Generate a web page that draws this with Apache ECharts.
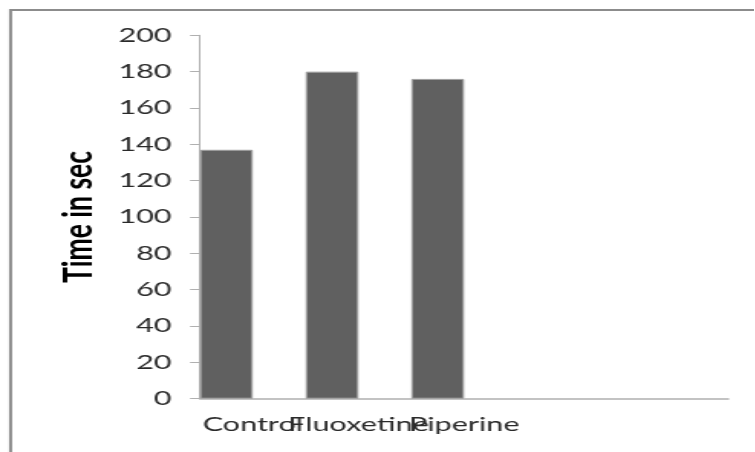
<!DOCTYPE html>
<html>
<head>
<meta charset="utf-8">
<script src="https://cdn.jsdelivr.net/npm/echarts@6/dist/echarts.min.js"></script>
<style>
  html, body { margin: 0; padding: 0; background: #fff; overflow: hidden; }
  /* The chart is laid out narrower and widened horizontally, giving the wide lettering */
  #wrap { width: 755px; height: 452px; overflow: hidden; position: relative; }
  #chart { position: absolute; left: 0; top: 0; height: 452px; transform-origin: 0 0; }
</style>
</head>
<body>
<div id="wrap"><div id="chart"></div></div>
<script>
// Immobility time per group
const categories = ['Control', 'Fluoxetine', 'Piperine', '', ''];
const timeValues = [137, 180, 176, null, null];
const emptySeries = [null, null, null, null, null];
const yTicks = { min: 0, max: 200, interval: 20 };
const yTitle = 'Time in sec';

const stretch = 1.53;
const el = document.getElementById('chart');
el.style.width = (755 / stretch) + 'px';
el.style.transform = 'scaleX(' + stretch + ')';

const chart = echarts.init(el, null, { renderer: 'canvas' });
const fontFamily = 'Lato, "Open Sans", sans-serif';

chart.setOption({
  animation: false,
  backgroundColor: '#fff',
  graphic: [{
    type: 'rect',
    shape: { x: 6.9, y: 10, width: 1000, height: 1000 },
    style: { fill: 'none', stroke: '#8c8c8c', lineWidth: 2 },
    silent: true
  }],
  grid: { left: 130.7, right: 17, top: 35.3, bottom: 53.3, containLabel: false },
  xAxis: {
    type: 'category',
    data: categories,
    boundaryGap: true,
    axisLine: { lineStyle: { color: '#b0b0b0', width: 1.5 } },
    axisTick: { show: false },
    axisLabel: { interval: 0, margin: 16, color: '#2a2a2a', fontFamily: fontFamily, fontSize: 20 }
  },
  yAxis: {
    type: 'value',
    min: yTicks.min,
    max: yTicks.max,
    interval: yTicks.interval,
    name: yTitle,
    nameLocation: 'middle',
    nameGap: 66,
    nameTextStyle: { color: '#000', fontFamily: fontFamily, fontWeight: 'bold', fontSize: 26.5 },
    axisLine: { show: true, lineStyle: { color: '#b0b0b0', width: 1 } },
    axisTick: { show: true, length: 6.5, lineStyle: { color: '#b0b0b0', width: 1 } },
    splitLine: { show: false },
    axisLabel: { margin: 18.5, color: '#2a2a2a', fontFamily: fontFamily, fontSize: 20 }
  },
  series: [
    {
      type: 'bar',
      data: timeValues,
      barGap: '0%',
      barCategoryGap: '0%',
      itemStyle: { color: '#606060', borderColor: '#a0a0a0', borderWidth: 1 }
    },
    {
      type: 'bar',
      data: emptySeries,
      barGap: '0%',
      barCategoryGap: '0%',
      itemStyle: { color: '#606060' }
    }
  ]
});
</script>
</body>
</html>
